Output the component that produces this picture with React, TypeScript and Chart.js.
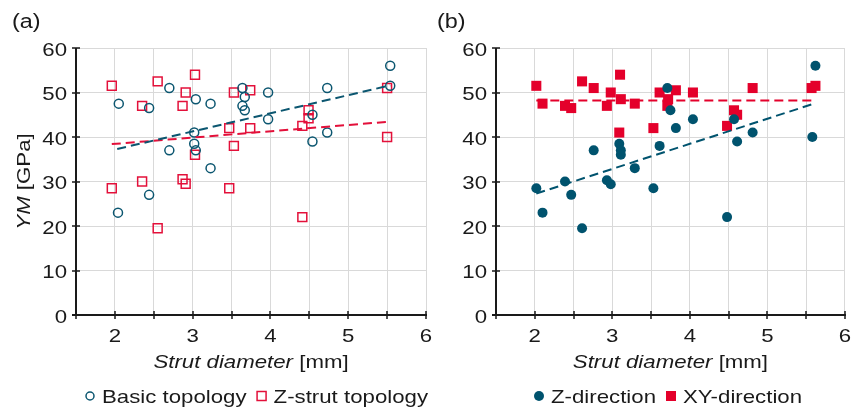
import React, { useEffect, useRef } from "react";
import { Chart, registerables } from "chart.js";

Chart.register(...registerables);

// ---------- data ----------
// Panel (a)
const basicX = [2.05, 2.7, 2.44, 3.04, 3.23, 3.64, 3.67, 3.64, 3.67, 3.97, 3.97, 4.54, 4.54, 4.73, 4.73, 5.54, 5.54, 3.02, 3.02, 3.04, 2.7, 3.23, 2.44, 2.04];
const basicY = [47.5, 51, 46.5, 48.5, 47.5, 51, 49, 47, 46, 50, 44, 45, 39, 51, 41, 56, 51.5, 41, 38.5, 37, 37, 33, 27, 23];
const zstrutX = [1.96, 2.55, 3.03, 2.35, 2.91, 2.87, 3.53, 3.74, 5.5, 4.49, 4.49, 4.41, 3.47, 3.74, 5.5, 3.53, 3.03, 1.96, 2.35, 2.87, 2.91, 3.47, 2.55, 4.41];
const zstrutY = [51.5, 52.5, 54, 47, 50, 47, 50, 50.5, 51, 46, 44.2, 42.5, 42, 42, 40, 38, 36, 28.5, 30, 30.5, 29.5, 28.5, 19.5, 22];
const trendBasicX = [2.03, 5.54];
const trendBasicY = [37.3, 51.6];
const trendZstrutX = [1.96, 5.5];
const trendZstrutY = [38.4, 43.4];

// Panel (b)
const zdirX = [3.71, 3.75, 3.82, 4.04, 4.57, 4.61, 4.81, 5.62, 5.58, 2.76, 3.09, 3.11, 3.11, 3.61, 3.29, 2.02, 2.39, 2.93, 2.98, 3.53, 2.47, 2.1, 2.61, 4.48];
const zdirY = [51, 46, 42, 44, 44, 39, 41, 56, 40, 37, 38.5, 37, 36, 38, 33, 28.5, 30, 30.3, 29.4, 28.5, 27, 23, 19.5, 22];
const xydirX = [2.02, 2.1, 2.61, 2.76, 2.39, 2.47, 2.98, 2.93, 3.1, 3.11, 3.29, 3.09, 3.61, 3.72, 3.82, 3.71, 4.04, 3.53, 4.57, 4.61, 4.48, 4.81, 5.57, 5.62];
const xydirY = [51.5, 47.5, 52.5, 51, 47, 46.5, 50, 47, 54, 48.5, 47.5, 41, 50, 48.5, 50.5, 47, 50, 42, 46, 45, 42.5, 51, 51, 51.5];
const trendZdirX = [2.02, 5.62];
const trendZdirY = [27.3, 47.6];
const trendXYX = [2.02, 5.62];
const trendXYY = [48.2, 48.2];

// ticks
const yTicks = [0, 10, 20, 30, 40, 50, 60];
const xTicks = [1.5, 2, 2.5, 3, 3.5, 4, 4.5, 5, 5.5, 6];
const xLabels = [2, 3, 4, 5, 6];

// ---------- style ----------
const TEAL = "#0b5670";
const RED = "#e3103a";
const RED_FILL = "#e4002b";
const TEAL_FILL = "#00536e";
const GRID = "#d9d9d9";
const INK = "#1a1a1a";
const FONT = '"Liberation Sans", Arial, sans-serif';
const SX = 1.17;

const zip = (xs: number[], ys: number[]) => xs.map((x, i) => ({ x, y: ys[i] }));

function setFont(ctx: CanvasRenderingContext2D, size: number, italic: boolean) {
  ctx.font = `${italic ? "italic " : ""}${size}px ${FONT}`;
}

function measure(ctx: CanvasRenderingContext2D, text: string, size: number, italic = false) {
  ctx.save();
  setFont(ctx, size, italic);
  const w = ctx.measureText(text).width * SX;
  ctx.restore();
  return w;
}

function drawText(
  ctx: CanvasRenderingContext2D,
  text: string,
  x: number,
  y: number,
  align: CanvasTextAlign,
  size: number,
  italic = false
) {
  ctx.save();
  setFont(ctx, size, italic);
  ctx.fillStyle = INK;
  ctx.textAlign = align;
  ctx.textBaseline = "alphabetic";
  ctx.translate(x, y);
  ctx.scale(SX, 1);
  ctx.fillText(text, 0, 0);
  ctx.restore();
}

type Part = { t: string; i: boolean };
function drawRich(ctx: CanvasRenderingContext2D, parts: Part[], cx: number, y: number, size: number) {
  const widths = parts.map((p) => measure(ctx, p.t, size, p.i));
  const total = widths.reduce((a, b) => a + b, 0);
  let x = cx - total / 2;
  parts.forEach((p, k) => {
    drawText(ctx, p.t, x, y, "left", size, p.i);
    x += widths[k];
  });
}

type LegendItem = { label: string; marker: "circle" | "rect"; color: string; filled: boolean };

function makePlugin(opts: { panel: string; yTitle: boolean; legend: LegendItem[]; legendX: number }) {
  return {
    id: "decor" + opts.panel,
    afterDraw(chart: any) {
      const ctx: CanvasRenderingContext2D = chart.ctx;
      const { left, right, top, bottom } = chart.chartArea;
      const xs = chart.scales.x;
      const ys = chart.scales.y;
      ctx.save();
      // axes
      ctx.strokeStyle = INK;
      ctx.lineWidth = 2;
      ctx.beginPath();
      ctx.moveTo(left, top);
      ctx.lineTo(left, bottom + 1);
      ctx.moveTo(left - 4, bottom);
      ctx.lineTo(right + 1, bottom);
      ctx.stroke();
      ctx.lineWidth = 1.5;
      ctx.beginPath();
      yTicks.forEach((v) => {
        const py = Math.round(ys.getPixelForValue(v));
        ctx.moveTo(left - 4, py);
        ctx.lineTo(left + 4, py);
      });
      xTicks.forEach((v) => {
        const px = Math.round(xs.getPixelForValue(v));
        ctx.moveTo(px, bottom - 4);
        ctx.lineTo(px, bottom + 4);
      });
      ctx.stroke();
      // tick labels
      yTicks.forEach((v) => {
        const py = ys.getPixelForValue(v);
        drawText(ctx, String(v), left - 9, py + 7.5, "right", 19);
      });
      xLabels.forEach((v) => {
        const px = xs.getPixelForValue(v);
        drawText(ctx, String(v), px, bottom + 26.5, "center", 19);
      });
      // x title
      drawRich(
        ctx,
        [
          { t: "Strut diameter", i: true },
          { t: " [mm]", i: false },
        ],
        (left + right) / 2,
        bottom + 53,
        19
      );
      // y title
      if (opts.yTitle) {
        ctx.save();
        ctx.translate(30, (top + bottom) / 2);
        ctx.rotate(-Math.PI / 2);
        drawRich(
          ctx,
          [
            { t: "YM", i: true },
            { t: " [GPa]", i: false },
          ],
          0,
          0,
          19
        );
        ctx.restore();
      }
      // panel label
      drawText(ctx, `(${opts.panel})`, opts.yTitle ? 12 : 1, 28, "left", 20);
      // legend
      const ly = bottom + 88;
      const my = ly - 7;
      let x = opts.legendX;
      opts.legend.forEach((it) => {
        ctx.beginPath();
        if (it.marker === "circle") {
          const r = it.filled ? 5 : 4;
          ctx.arc(x, my, r, 0, Math.PI * 2);
        } else {
          const s = it.filled ? 10 : 9;
          ctx.rect(x - s / 2, my - s / 2, s, s);
        }
        if (it.filled) {
          ctx.fillStyle = it.color;
          ctx.fill();
        } else {
          ctx.strokeStyle = it.color;
          ctx.lineWidth = 1.5;
          ctx.stroke();
        }
        const tx = x + 12;
        drawText(ctx, it.label, tx, ly, "left", 19);
        x = tx + measure(ctx, it.label, 19) + 15;
      });
      ctx.restore();
    },
  };
}

function buildConfig(kind: "a" | "b"): any {
  const trendStyle = (color: string) => ({
    showLine: true,
    pointRadius: 0,
    borderColor: color,
    borderWidth: 2,
    borderDash: [9, 5],
    fill: false,
  });
  const datasets =
    kind === "a"
      ? [
          { label: "trendBasic", data: zip(trendBasicX, trendBasicY), ...trendStyle(TEAL) },
          { label: "trendZ", data: zip(trendZstrutX, trendZstrutY), ...trendStyle(RED) },
          {
            label: "Basic topology",
            data: zip(basicX, basicY),
            pointStyle: "circle",
            pointRadius: 4.5,
            borderColor: TEAL,
            backgroundColor: "rgba(0,0,0,0)",
            borderWidth: 1.5,
          },
          {
            label: "Z-strut topology",
            data: zip(zstrutX, zstrutY),
            pointStyle: "rect",
            pointRadius: 6.3,
            borderColor: RED,
            backgroundColor: "rgba(0,0,0,0)",
            borderWidth: 1.5,
          },
        ]
      : [
          { label: "trendZ", data: zip(trendZdirX, trendZdirY), ...trendStyle(TEAL_FILL) },
          { label: "trendXY", data: zip(trendXYX, trendXYY), ...trendStyle(RED_FILL) },
          {
            label: "Z-direction",
            data: zip(zdirX, zdirY),
            pointStyle: "circle",
            pointRadius: 5,
            borderColor: TEAL_FILL,
            backgroundColor: TEAL_FILL,
            borderWidth: 0,
          },
          {
            label: "XY-direction",
            data: zip(xydirX, xydirY),
            pointStyle: "rect",
            pointRadius: 7.1,
            borderColor: RED_FILL,
            backgroundColor: RED_FILL,
            borderWidth: 0,
          },
        ];
  const yWidth = kind === "a" ? 76 : 60;
  const plugin =
    kind === "a"
      ? makePlugin({
          panel: "a",
          yTitle: true,
          legendX: 90,
          legend: [
            { label: "Basic topology", marker: "circle", color: TEAL, filled: false },
            { label: "Z-strut topology", marker: "rect", color: RED, filled: false },
          ],
        })
      : makePlugin({
          panel: "b",
          yTitle: false,
          legendX: 103,
          legend: [
            { label: "Z-direction", marker: "circle", color: TEAL_FILL, filled: true },
            { label: "XY-direction", marker: "rect", color: RED_FILL, filled: true },
          ],
        });
  return {
    type: "scatter",
    data: { datasets },
    plugins: [plugin],
    options: {
      animation: false,
      responsive: false,
      devicePixelRatio: 1,
      layout: { padding: { left: 0, right: kind === "a" ? 10 : 7, top: 48, bottom: 62 } },
      plugins: { legend: { display: false }, tooltip: { enabled: false } },
      scales: {
        x: {
          type: "linear",
          min: 1.5,
          max: 6,
          ticks: { display: false, stepSize: 0.5 },
          grid: { color: GRID, lineWidth: 1, drawTicks: false },
          border: { display: false },
          afterFit: (s: any) => {
            s.height = 30;
          },
        },
        y: {
          type: "linear",
          min: 0,
          max: 60,
          ticks: { display: false, stepSize: 10 },
          grid: { color: GRID, lineWidth: 1, drawTicks: false },
          border: { display: false },
          afterFit: (s: any) => {
            s.width = yWidth;
          },
        },
      },
    },
  };
}

function Panel({ kind, left, width }: { kind: "a" | "b"; left: number; width: number }) {
  const ref = useRef<HTMLCanvasElement>(null);
  useEffect(() => {
    if (!ref.current) return;
    const chart = new Chart(ref.current, buildConfig(kind));
    return () => chart.destroy();
  }, [kind]);
  return (
    <canvas
      ref={ref}
      width={width}
      height={407}
      style={{ position: "absolute", left, top: 0, width, height: 407 }}
    />
  );
}

export default function App() {
  return (
    <div style={{ position: "absolute", left: 0, top: 0, width: 852, height: 407, background: "#fff" }}>
      <Panel kind="a" left={0} width={436} />
      <Panel kind="b" left={436} width={416} />
    </div>
  );
}
